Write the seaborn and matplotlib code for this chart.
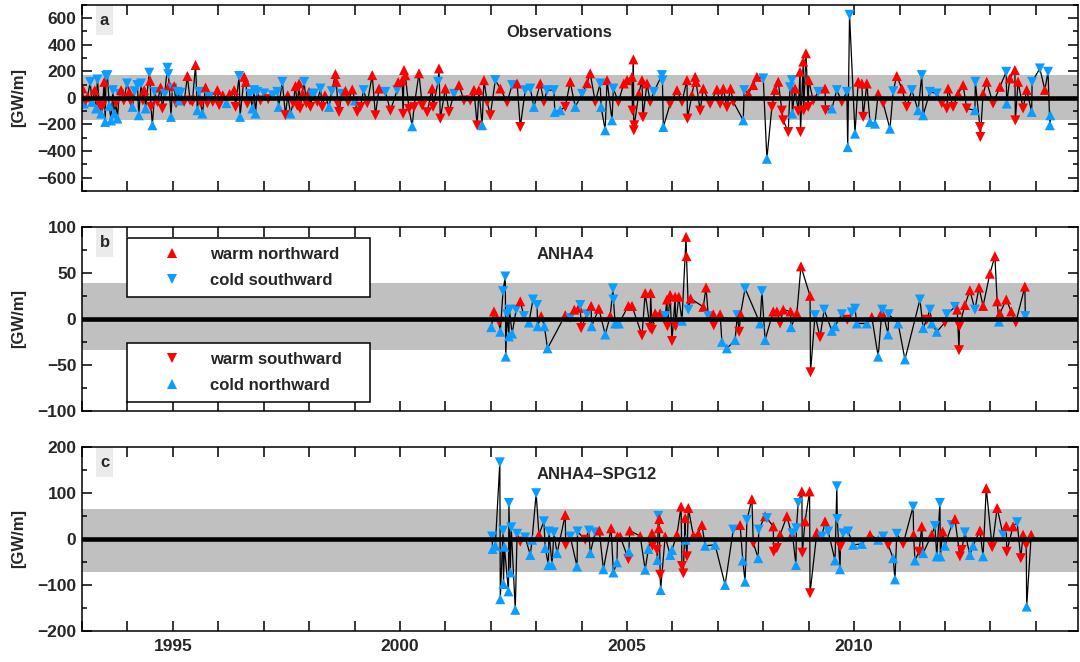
import numpy as np
import pandas as pd
import matplotlib
matplotlib.use("Agg")
import matplotlib.pyplot as plt
import seaborn as sns
from matplotlib.lines import Line2D
from matplotlib.patches import Rectangle
from matplotlib.ticker import MultipleLocator, FixedLocator, FuncFormatter

# ---------------- data ----------------
# Panel a: Observations
obs_warm_year = [
    1993.01, 1993.08, 1993.12, 1993.28, 1993.38, 1993.45, 1993.49, 1993.75, 1993.86, 1993.92,
    1994.04, 1994.08, 1994.34, 1994.37, 1994.50, 1994.52, 1994.66, 1994.73, 1994.77, 1994.92,
    1995.03, 1995.07, 1995.25, 1995.32, 1995.38, 1995.43, 1995.50, 1995.62, 1995.72, 1995.76,
    1995.88, 1995.98, 1996.02, 1996.10, 1996.25, 1996.35, 1996.38, 1996.57, 1996.61, 1996.64,
    1996.93, 1997.10, 1997.48, 1997.53, 1997.65, 1997.70, 1997.74, 1997.78, 1997.80, 1997.85,
    1997.94, 1998.00, 1998.03, 1998.18, 1998.29, 1998.35, 1998.58, 1998.60, 1998.63, 1998.66,
    1998.80, 1998.86, 1998.95, 1999.06, 1999.13, 1999.28, 1999.39, 1999.46, 1999.54, 1999.79,
    1999.96, 2000.05, 2000.07, 2000.09, 2000.12, 2000.20, 2000.31, 2000.42, 2000.49, 2000.60,
    2000.71, 2000.73, 2000.86, 2000.89, 2001.00, 2001.08, 2001.30, 2001.41, 2001.55, 2001.63,
    2001.70, 2001.74, 2001.85, 2001.92, 2001.99, 2002.21, 2002.36, 2002.58, 2002.65, 2003.09,
    2003.17, 2003.64, 2003.75, 2004.12, 2004.19, 2004.30, 2004.56, 2004.81, 2004.93, 2005.00,
    2005.11, 2005.12, 2005.14, 2005.15, 2005.16, 2005.26, 2005.33, 2005.35, 2005.44, 2005.51,
    2005.95, 2006.10, 2006.21, 2006.32, 2006.33, 2006.43, 2006.50, 2006.52, 2006.61, 2006.68,
    2006.83, 2006.98, 2007.05, 2007.12, 2007.20, 2007.28, 2007.34, 2007.67, 2007.78, 2007.86,
    2008.19, 2008.26, 2008.33, 2008.41, 2008.44, 2008.55, 2008.70, 2008.77, 2008.81, 2008.82,
    2008.88, 2008.89, 2008.94, 2008.99, 2009.00, 2009.10, 2009.36, 2009.37, 2009.73, 2010.09,
    2010.17, 2010.20, 2010.28, 2010.53, 2010.64, 2010.94, 2011.05, 2011.16, 2011.93, 2012.04,
    2012.07, 2012.18, 2012.29, 2012.40, 2012.48, 2012.77, 2012.78, 2012.84, 2012.92, 2013.06,
    2013.21, 2013.43, 2013.54, 2013.55, 2013.61, 2013.72, 2013.80, 2014.20,
]
obs_warm_flux = [
    70, -20, 5, 58, -50, -63, 120, -40, 58, -20,
    45, -30, -20, 58, 128, -68, -30, 78, -80, 96,
    88, -40, -30, 164, -20, -30, 247, -40, 78, -40,
    -30, 58, -55, 20, 30, 58, -68, 158, 120, -43,
    -20, -10, -130, 20, -40, 88, -60, 108, -80, 30,
    -40, 45, -68, -30, -68, 20, 179, 120, -40, -106,
    53, -30, 63, -106, -68, -40, 171, -131, 70, -96,
    118, 130, -120, 209, 170, -83, -70, 184, -58, -108,
    70, -68, 221, -156, 70, -106, 96, -20, -20, 60,
    -206, 58, 133, -30, -131, 70, -33, 108, -219, 108,
    -30, -68, 121, 110, 184, -30, 133, -30, 108, 133,
    158, -96, 289, -244, -206, 30, 133, -146, 108, -30,
    -45, 58, -30, 133, -156, 20, 158, 120, -96, 70,
    -45, 63, -45, 70, -70, 70, -30, 33, 96, 158,
    -68, 60, 121, -96, -169, -257, 70, -100, 196, -257,
    272, -93, 335, -68, 133, -20, 70, -93, -30, 121,
    108, -143, 108, 30, -40, 164, 70, -68, -40, -80,
    70, -68, 30, 96, -80, -219, -294, 30, 121, -43,
    83, 146, 209, -169, 121, -80, 60, 60,
]
obs_cold_year = [
    1993.04, 1993.18, 1993.22, 1993.31, 1993.34, 1993.42, 1993.51, 1993.53, 1993.56, 1993.60,
    1993.64, 1993.68, 1993.71, 1993.78, 1993.82, 1993.99, 1994.11, 1994.16, 1994.22, 1994.25,
    1994.30, 1994.40, 1994.48, 1994.55, 1994.60, 1994.82, 1994.88, 1994.90, 1994.96, 1994.99,
    1995.10, 1995.14, 1995.17, 1995.54, 1995.58, 1995.65, 1995.80, 1996.18, 1996.46, 1996.48,
    1996.70, 1996.75, 1996.79, 1996.82, 1996.86, 1997.01, 1997.20, 1997.30, 1997.33, 1997.41,
    1997.59, 1997.89, 1998.07, 1998.11, 1998.25, 1998.44, 1998.50, 1998.72, 1999.01, 1999.20,
    1999.68, 1999.94, 2000.27, 2000.84, 2001.19, 2001.81, 2002.10, 2002.47, 2002.76, 2002.87,
    2002.95, 2003.24, 2003.39, 2003.41, 2003.53, 2003.86, 2004.01, 2004.41, 2004.43, 2004.52,
    2004.67, 2004.70, 2005.59, 2005.77, 2005.78, 2005.80, 2007.56, 2007.58, 2008.00, 2008.08,
    2008.59, 2008.63, 2008.64, 2009.21, 2009.51, 2009.62, 2009.84, 2009.86, 2009.90, 2010.02,
    2010.35, 2010.46, 2010.79, 2010.86, 2011.27, 2011.41, 2011.49, 2011.52, 2011.67, 2011.82,
    2012.66, 2012.67, 2013.35, 2013.36, 2013.91, 2013.92, 2014.09, 2014.27, 2014.31, 2014.32,
]
obs_cold_flux = [
    -43, 120, -30, -80, 138, -118, -181, 164, 171, -60,
    -170, 58, -118, -156, 30, 108, -68, 50, 96, -131,
    108, -80, 189, -206, 45, 30, 226, 178, -143, 70,
    45, -20, 38, -93, 45, -118, 8, -40, 164, -143,
    30, -80, 58, -118, 45, 33, 20, 45, -68, 120,
    -118, 120, 20, 33, 70, -68, 50, 30, -20, 58,
    45, 58, -214, 121, 30, -206, 133, 96, 58, 70,
    -68, 58, 58, -106, -93, -68, 30, 108, -68, -244,
    -169, 70, 45, 171, 130, -219, -169, 58, 146, -458,
    80, 133, -118, 45, -80, 58, 45, -370, 624, -269,
    -181, -194, -232, 50, 58, -93, 171, -131, 45, 33,
    -93, 121, 196, -43, -106, 121, 221, 196, -206, -131,
]

# Panel b: ANHA4
anha4_warm_year = [
    2002.07, 2002.18, 2002.65, 2003.11, 2003.64, 2003.84, 2003.94, 2003.99, 2004.21, 2004.38,
    2004.63, 2005.03, 2005.11, 2005.33, 2005.40, 2005.51, 2005.52, 2005.55, 2005.62, 2005.73,
    2005.88, 2005.89, 2005.95, 2005.99, 2006.06, 2006.07, 2006.14, 2006.30, 2006.31, 2006.40,
    2006.68, 2006.74, 2006.90, 2006.91, 2007.05, 2007.47, 2007.50, 2008.22, 2008.30, 2008.37,
    2008.44, 2008.60, 2008.74, 2008.83, 2009.03, 2009.04, 2009.25, 2009.85, 2010.39, 2010.61,
    2011.60, 2012.00, 2012.27, 2012.31, 2012.32, 2012.44, 2012.55, 2012.75, 2012.84, 2012.99,
    2013.10, 2013.15, 2013.21, 2013.35, 2013.46, 2013.56, 2013.76,
]
anha4_warm_flux = [
    8, -3, 19, 3, 4, 10, 12, -10, 14, 11,
    3, 14, 14, -18, 28, -10, 28, -12, 6, 6,
    21, -8, 26, -24, 24, -8, 24, 89, 68, 22,
    13, 34, 5, -7, 5, -14, 5, 8, 8, -5,
    10, 8, 6, 57, 25, -58, -20, -1, 2, 7,
    -1, -4, 10, -34, -8, 15, 31, 34, 14, 49,
    68, 19, 6, 21, 8, -4, 35,
]
anha4_cold_year = [
    2002.01, 2002.21, 2002.27, 2002.32, 2002.33, 2002.36, 2002.40, 2002.41, 2002.47, 2002.56,
    2002.73, 2002.84, 2002.93, 2003.02, 2003.03, 2003.18, 2003.25, 2003.75, 2003.97, 2004.12,
    2004.22, 2004.52, 2004.69, 2004.70, 2004.74, 2004.82, 2005.84, 2006.21, 2006.35, 2006.79,
    2007.09, 2007.20, 2007.38, 2007.43, 2007.60, 2007.93, 2007.97, 2008.04, 2008.61, 2009.14,
    2009.34, 2009.51, 2009.58, 2009.73, 2009.95, 2010.02, 2010.06, 2010.28, 2010.53, 2010.62,
    2010.75, 2010.76, 2010.97, 2011.12, 2011.45, 2011.52, 2011.67, 2011.71, 2011.82, 2012.04,
    2012.22, 2012.66, 2013.19, 2013.77,
]
anha4_cold_flux = [
    -9, -14, 30, 46, -41, 5, -19, 10, -16, 10,
    3, -4, 21, 15, -8, -8, -32, 1, 15, 5,
    -8, -17, 33, 21, -5, -5, 3, -2, 10, 3,
    -25, -32, -23, 4, 33, -5, 30, -23, -9, 4,
    10, -13, -8, 5, 7, 11, -5, -5, -41, 10,
    -17, 5, -5, -44, 21, -10, 10, -5, -14, 5,
    13, 10, -3, 3,
]

# Panel c: ANHA4-SPG12
spg12_warm_year = [
    2002.65, 2003.06, 2003.64, 2003.65, 2004.08, 2004.39, 2004.65, 2004.79, 2004.85, 2005.03,
    2005.06, 2005.29, 2005.55, 2005.56, 2005.66, 2005.70, 2005.71, 2005.73, 2005.84, 2006.10,
    2006.19, 2006.21, 2006.24, 2006.28, 2006.32, 2006.35, 2006.46, 2006.57, 2006.65, 2007.49,
    2007.75, 2007.78, 2008.04, 2008.22, 2008.23, 2008.30, 2008.37, 2008.52, 2008.63, 2008.85,
    2008.86, 2008.92, 2009.02, 2009.03, 2009.18, 2009.36, 2009.70, 2010.35, 2010.75, 2011.08,
    2011.31, 2011.43, 2011.49, 2011.71, 2011.95, 2012.22, 2012.33, 2012.37, 2012.77, 2012.91,
    2013.04, 2013.15, 2013.35, 2013.36, 2013.50, 2013.67, 2013.72, 2013.79, 2013.90,
]
spg12_warm_flux = [
    -6, 9, 52, -13, -2, 18, 23, 5, 5, -44,
    18, 6, 12, -15, -24, 23, 43, -78, 5, 9,
    70, -59, -75, 45, -38, 67, 7, 11, 30, 30,
    86, -9, 49, 27, -28, -20, 9, 49, 9, 103,
    -30, 38, 103, -118, 14, 38, -17, 9, -13, -11,
    9, -28, 27, 9, 16, 43, -38, -24, 18, 110,
    -18, 67, 28, -28, 27, -42, 9, -13, 9,
]
spg12_cold_year = [
    2002.03, 2002.04, 2002.10, 2002.20, 2002.21, 2002.27, 2002.28, 2002.30, 2002.39, 2002.40,
    2002.43, 2002.45, 2002.54, 2002.58, 2002.76, 2002.87, 2002.91, 2003.00, 2003.17, 2003.20,
    2003.27, 2003.28, 2003.35, 2003.39, 2003.46, 2003.75, 2003.90, 2003.91, 2004.16, 2004.19,
    2004.30, 2004.48, 2004.70, 2004.78, 2005.04, 2005.40, 2005.47, 2005.67, 2005.69, 2005.74,
    2005.95, 2005.99, 2006.29, 2006.72, 2006.94, 2007.16, 2007.34, 2007.55, 2007.60, 2007.64,
    2007.89, 2007.90, 2008.08, 2008.64, 2008.72, 2008.73, 2008.77, 2009.29, 2009.43, 2009.58,
    2009.62, 2009.63, 2009.69, 2009.76, 2009.87, 2009.98, 2010.17, 2010.53, 2010.64, 2010.86,
    2010.90, 2010.94, 2011.30, 2011.34, 2011.52, 2011.78, 2011.82, 2011.89, 2011.90, 2012.00,
    2012.15, 2012.44, 2012.55, 2012.62, 2012.84, 2013.28, 2013.59, 2013.80,
]
spg12_cold_flux = [
    5, -22, -15, 166, -131, 18, -98, -17, -114, 78,
    -73, 25, -154, 11, 3, -35, -2, 99, 38, -20,
    -57, 16, -57, 14, -31, 5, -60, 16, 18, -31,
    14, -66, -73, -51, -28, -67, -22, -46, 50, -111,
    -35, -24, -2, -15, -13, -100, 20, -47, -93, 41,
    -42, 20, 45, 12, -57, 23, 78, 5, 16, -47,
    114, 43, -66, 12, 16, -13, -11, -2, 5, -42,
    -88, 11, 70, -47, -31, 28, -38, 78, -38, -15,
    30, 14, -35, -15, -38, 9, 36, -147,
]

# grey variability bands (lower, upper)
band_obs = (-170, 170)
band_anha4 = (-33.5, 38.5)
band_spg12 = (-71, 64)

panel_titles = ["Observations", "ANHA4", "ANHA4\u2013SPG12"]
panel_letters = ["a", "b", "c"]
categories = ["warm northward", "cold southward", "warm southward", "cold northward"]
year_ticks = list(range(1993, 2015))
year_labels_every = 5

# ---------------- styling ----------------
RED = "#ff0000"
BLUE = "#0a9cff"
palette = {categories[0]: RED, categories[1]: BLUE, categories[2]: RED, categories[3]: BLUE}
markers = {categories[0]: "^", categories[1]: "v", categories[2]: "v", categories[3]: "^"}

sns.set_theme(style="ticks")
plt.rcParams["font.family"] = ["Liberation Sans", "DejaVu Sans"]
plt.rcParams["font.weight"] = "bold"
plt.rcParams["axes.linewidth"] = 1.1


def build_frame(wy, wv, cy, cv):
    nw = min(len(wy), len(wv))
    nc = min(len(cy), len(cv))
    w = pd.DataFrame({"year": wy[:nw], "flux": wv[:nw], "warm": True})
    c = pd.DataFrame({"year": cy[:nc], "flux": cv[:nc], "warm": False})
    df = pd.concat([w, c], ignore_index=True).sort_values("year", kind="stable")
    pos = df["flux"] >= 0
    df["kind"] = np.where(
        df["warm"],
        np.where(pos, categories[0], categories[2]),
        np.where(pos, categories[1], categories[3]),
    )
    return df.reset_index(drop=True)


frames = [
    build_frame(obs_warm_year, obs_warm_flux, obs_cold_year, obs_cold_flux),
    build_frame(anha4_warm_year, anha4_warm_flux, anha4_cold_year, anha4_cold_flux),
    build_frame(spg12_warm_year, spg12_warm_flux, spg12_cold_year, spg12_cold_flux),
]
bands = [band_obs, band_anha4, band_spg12]
ylims = [(-700, 700), (-100, 100), (-200, 200)]
ymajor = [200, 50, 100]
title_x = [0.4264, 0.4565, 0.4565]

fig = plt.figure(figsize=(10.8, 6.62), dpi=100)
left, width = 82 / 1080, (1078 - 82) / 1080
positions = [
    [left, 1 - 191 / 662, width, (191 - 4.7) / 662],
    [left, 1 - 411 / 662, width, (411 - 226.7) / 662],
    [left, 1 - 631 / 662, width, (631 - 446.7) / 662],
]

axes = []
for i, (df, band, ylim, pos) in enumerate(zip(frames, bands, ylims, positions)):
    ax = fig.add_axes(pos)
    axes.append(ax)
    ax.axhspan(band[0], band[1], color="#c0c0c0", lw=0, zorder=0)
    sns.lineplot(data=df, x="year", y="flux", sort=False, estimator=None,
                 color="black", lw=0.9, ax=ax, zorder=2)
    sns.scatterplot(data=df, x="year", y="flux", hue="kind", style="kind",
                    palette=palette, markers=markers, s=52, linewidth=0,
                    ax=ax, legend=False, zorder=3)
    ax.axhline(0, color="black", lw=3.3, zorder=4)

    ax.set_xlim(1993.0, 2014.93)
    ax.set_ylim(*ylim)
    ax.xaxis.set_major_locator(FixedLocator(year_ticks))
    if i == 2:
        ax.xaxis.set_major_formatter(FuncFormatter(
            lambda v, p: f"{int(round(v))}" if int(round(v)) % year_labels_every == 0 else ""))
    else:
        ax.xaxis.set_major_formatter(FuncFormatter(lambda v, p: ""))
    ax.yaxis.set_major_locator(MultipleLocator(ymajor[i]))
    ax.yaxis.set_minor_locator(MultipleLocator(ymajor[i] / 2))
    ax.yaxis.set_major_formatter(FuncFormatter(lambda v, p: f"{int(v)}".replace("-", "\u2212")))
    ax.tick_params(axis="both", which="major", direction="in", top=True, right=True,
                   length=7, width=1.1, labelsize=12.5, color="black")
    ax.tick_params(axis="y", which="minor", direction="in", left=True, right=True,
                   length=3.5, width=1.1, color="black")
    ax.tick_params(axis="y", which="major", pad=4)
    ax.tick_params(axis="x", which="major", pad=6)
    for lab in ax.get_xticklabels() + ax.get_yticklabels():
        lab.set_fontweight("bold")
    ax.set_xlabel("")
    ax.set_ylabel("[GW/m]", fontsize=12, fontweight="bold", labelpad=8)
    for s in ax.spines.values():
        s.set_color("black")
        s.set_linewidth(1.1)
        s.set_zorder(6)

    # panel letter box
    ax.add_patch(Rectangle((0.0141, 0.838), 0.0171, 0.162, transform=ax.transAxes,
                           facecolor="#ebebeb", edgecolor="none", zorder=5))
    ax.text(0.0226, 0.915, panel_letters[i], transform=ax.transAxes, ha="center",
            va="center", fontsize=12, fontweight="bold", zorder=6)
    ax.text(title_x[i], 0.85, panel_titles[i], transform=ax.transAxes, ha="left",
            va="center", fontsize=12, fontweight="bold", zorder=6)

# legends in panel b
axb = axes[1]


def handle(cat):
    return Line2D([], [], linestyle="none", marker=markers[cat], color=palette[cat],
                  markersize=7, markeredgewidth=0)


leg_kw = dict(loc="upper left", mode="expand", borderaxespad=0, frameon=True,
              fancybox=False, framealpha=1, edgecolor="black",
              handlelength=4.3, handletextpad=0.15, labelspacing=0.7, borderpad=0.52,
              prop={"weight": "bold", "size": 12})
leg1 = axb.legend([handle(categories[0]), handle(categories[1])],
                  [categories[0], categories[1]],
                  bbox_to_anchor=(0.0452, 0.9387 - 0.35, 0.244, 0.35), **leg_kw)
leg1.get_frame().set_linewidth(1.1)
leg1.set_zorder(7)
axb.add_artist(leg1)
leg2 = axb.legend([handle(categories[2]), handle(categories[3])],
                  [categories[2], categories[3]],
                  bbox_to_anchor=(0.0452, 0.369 - 0.35, 0.244, 0.35), **leg_kw)
leg2.get_frame().set_linewidth(1.1)
leg2.set_zorder(7)

fig.savefig("out.png", dpi=100)
